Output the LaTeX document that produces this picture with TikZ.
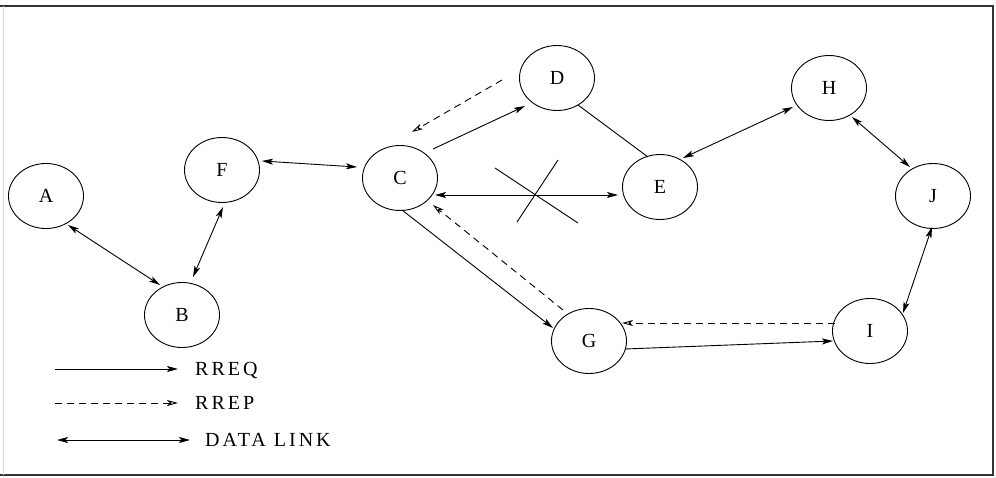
\documentclass[tikz,border=0pt]{standalone}
\usepackage{fontspec}
\setmainfont{Liberation Serif}
\newfontfamily\legendfont[LetterSpace=15]{Liberation Serif}
\usetikzlibrary{arrows.meta,calc,shapes.geometric}

\tikzset{
  station/.style={draw, ellipse, line width=0.9pt, minimum width=75pt, minimum height=65pt,
                  inner sep=0pt, font=\fontsize{20}{20}\selectfont},
  link/.style={line width=0.9pt},
  rreq/.style={link, -{Stealth[length=11pt,width=6pt,inset=2.5pt]}},
  rrep/.style={link, dash pattern=on 7pt off 5pt, -{Stealth[length=11pt,width=6pt,inset=3pt,open]}},
  datalink/.style={link, {Stealth[length=11pt,width=6pt,inset=2.5pt]}-{Stealth[length=11pt,width=6pt,inset=2.5pt]}},
  plainlink/.style={link},
  legendtext/.style={anchor=west, inner sep=0pt, font=\fontsize{20}{20}\legendfont},
  frame/.style={line width=2pt, draw=black!80},
}

\begin{document}
\begin{tikzpicture}[x=1pt, y=-1pt]
  \useasboundingbox (0,0) rectangle (996,477);

  % outer frame
  \draw[frame] (0,6) -- (993,6) -- (993,475) -- (0,475);
  \draw[black!15, line width=0.6pt] (3,6) -- (3,475);

  % stations
  \node[station] (A) at (46,196) {A};
  \node[station] (B) at (182,315) {B};
  \node[station] (F) at (222,170) {F};
  \node[station] (C) at (400,178) {C};
  \node[station] (D) at (557,78)  {D};
  \node[station] (E) at (660,187) {E};
  \node[station] (G) at (589,341) {G};
  \node[station] (H) at (829,88)  {H};
  \node[station] (J) at (933,196) {J};
  \node[station] (I) at (870,331) {I};

  % data links
  \draw[datalink] ($(A)+(22,29)$)  -- ($(B)+(-22,-30)$);
  \draw[datalink] ($(B)+(11,-38)$) -- ($(F)+(1,37)$);
  \draw[datalink] ($(F)+(40,-9)$)  -- ($(C)+(-43,-11)$);
  \draw[datalink] ($(C)+(35,17)$)  -- ($(E)+(-42,8)$);
  \draw[datalink] ($(E)+(23,-29)$) -- ($(H)+(-36,19)$);
  \draw[datalink] ($(H)+(23,29)$)  -- ($(J)+(-23,-29)$);
  \draw[datalink] ($(J)+(-1,31)$)  -- ($(I)+(33,-18)$);

  % broken link C--E
  \coordinate (cut) at (537,195);
  \draw[plainlink] ($(cut)+(-42,-27)$) -- ($(cut)+(41,28)$);
  \draw[plainlink] ($(cut)+(21,-35)$)  -- ($(cut)+(-20,27)$);

  % plain link D--E
  \draw[plainlink] ($(D)+(21,27)$) -- ($(E)+(-12,-30)$);

  % route requests
  \draw[rreq] ($(C)+(33,-29)$) -- ($(D)+(-32,28)$);
  \draw[rreq] ($(C)+(2,32)$)   -- ($(G)+(-36,-13)$);
  \draw[rreq] ($(G)+(36,8)$)   -- ($(I)+(-37,10)$);

  % route replies
  \draw[rrep] ($(D)+(-55,2)$)   -- ($(C)+(12,-46)$);
  \draw[rrep] ($(G)+(-26,-31)$) -- ($(C)+(33,27)$);
  \draw[rrep] ($(I)+(-35,-8)$)  -- ($(G)+(33,-18)$);

  % legend
  \node[legendtext] (lreq)  at (195,370) {RREQ};
  \node[legendtext] (lrep)  at (195,403) {RREP};
  \node[legendtext] (llink) at (205,440) {DATA LINK};
  \coordinate (lreq0)  at (55,369);
  \coordinate (lrep0)  at (55,403);
  \coordinate (llink0) at (57,440);
  \draw[rreq]     (lreq0)  -- (178,369);
  \draw[rrep]     (lrep0)  -- (178,403);
  \draw[datalink] (llink0) -- (190,440);
\end{tikzpicture}
\end{document}
